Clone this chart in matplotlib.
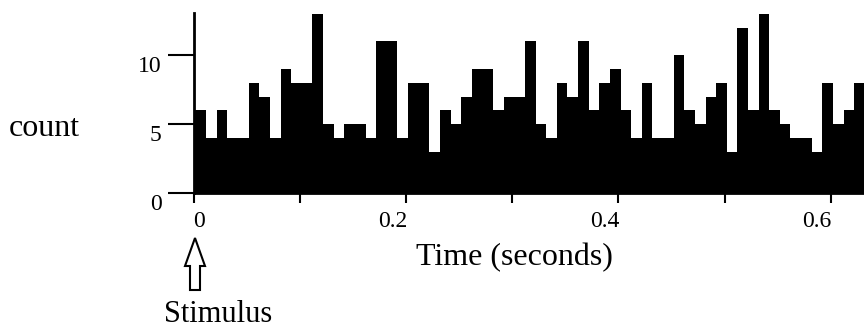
import numpy as np
import matplotlib
matplotlib.use("Agg")
import matplotlib.pyplot as plt
from matplotlib.patches import FancyArrow
from matplotlib.transforms import ScaledTranslation

# Spike counts per 10 ms bin after the stimulus (first bin straddles t = 0)
bin_start = -0.008
bin_width = 0.01
counts = [6,
          6, 4, 6, 4, 4, 8, 7, 4, 9, 8, 8, 13, 5, 4, 5, 5, 4, 11, 11, 4,
          8, 8, 3, 6, 5, 7, 9, 9, 6, 7, 7, 11, 5, 4, 8, 7, 11, 6, 8, 9,
          6, 4, 8, 4, 4, 10, 6, 5, 7, 8, 3, 12, 6, 13, 6, 5, 4, 4, 3, 8,
          5, 6, 8]

x_major = [0, 0.2, 0.4, 0.6]
x_major_labels = ["0", "0.2", "0.4", "0.6"]
x_minor = [0.1, 0.3, 0.5]
y_ticks = [0, 5, 10]
y_labels = ["0", "5", "10"]

plt.rcParams["font.family"] = ["Liberation Serif", "DejaVu Serif"]

W, H = 864, 335
fig = plt.figure(figsize=(W / 100, H / 100), dpi=100)


def fx(px):
    return px / W


def fy(py):
    return 1 - py / H


ax = fig.add_axes([fx(193.5), fy(193.3), fx(864) - fx(193.5), (193.3 - 13) / H])

edges = bin_start + bin_width * np.arange(len(counts) + 1)
ax.stairs(counts, edges, fill=True, color="black", linewidth=0)

ax.set_xlim(0, 0.6312)
ax.set_ylim(0, 13.05)

for side in ("top", "right"):
    ax.spines[side].set_visible(False)
for side in ("left", "bottom"):
    ax.spines[side].set_linewidth(2)
    ax.spines[side].set_color("black")

ax.set_xticks(x_major)
ax.set_xticklabels(x_major_labels)
ax.set_xticks(x_minor, minor=True)
ax.set_yticks(y_ticks)
ax.set_yticklabels(y_labels)

ax.tick_params(axis="x", which="both", direction="out", length=7.5, width=1.5,
               labelsize=17, pad=5, color="black")
ax.tick_params(axis="y", direction="out", length=18.5, width=1.5,
               labelsize=17, pad=4.5, color="black")

# tick label alignment
for lab, txt in zip(ax.get_xticklabels(), x_major_labels):
    lab.set_ha("left" if txt == "0" else "right")
    if txt != "0":
        lab.set_transform(lab.get_transform() + ScaledTranslation(1 / 100, 0, fig.dpi_scale_trans))
for lab in ax.get_yticklabels():
    lab.set_transform(lab.get_transform() + ScaledTranslation(0, -8.5 / 100, fig.dpi_scale_trans))

fig.text(fx(44), fy(136), "count", ha="center", va="baseline", fontsize=23)
fig.text(fx(514), fy(265.5), "Time (seconds)", ha="center", va="baseline", fontsize=23)
fig.text(fx(218), fy(322), "Stimulus", ha="center", va="baseline", fontsize=22)

# hollow arrow marking stimulus onset
arrow = FancyArrow(1.95, (H - 290) / 100, 0, 0.52, width=0.10, head_width=0.20,
                   head_length=0.28, length_includes_head=True,
                   transform=fig.dpi_scale_trans, facecolor="white",
                   edgecolor="black", linewidth=1.5)
fig.add_artist(arrow)

fig.savefig("out.png", dpi=100, facecolor="white")
